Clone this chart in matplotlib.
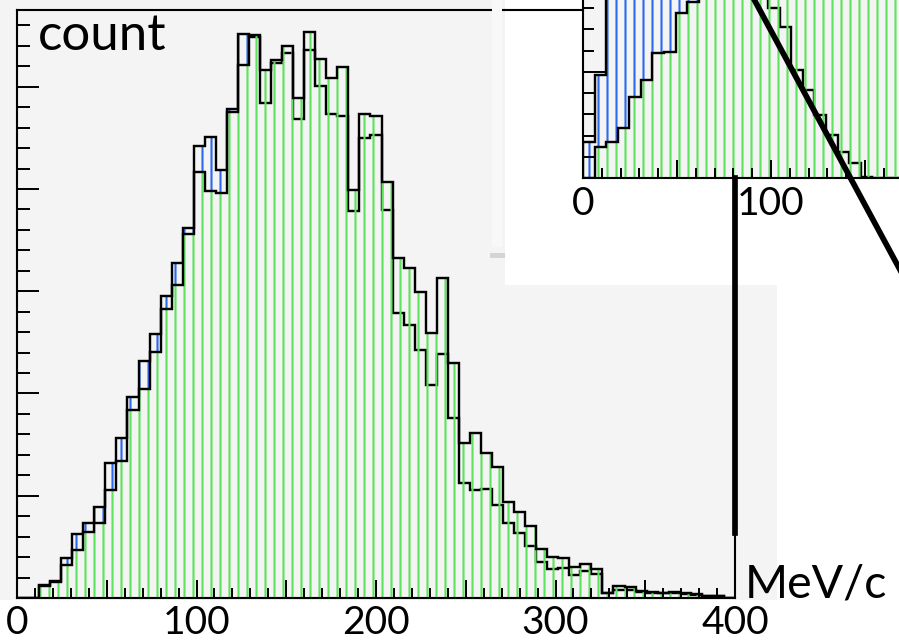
import numpy as np
import matplotlib.pyplot as plt
from matplotlib.patches import Rectangle
from matplotlib.lines import Line2D
from matplotlib.ticker import MultipleLocator, FuncFormatter

W, H, DPI = 899, 641, 108

# momentum spectrum, 65 bins from 0 to 400 MeV/c
edges = np.linspace(0, 400, 66)
blue_counts = [0, 0, 12.7, 16.6, 38.8, 62.3, 73, 88.7, 131.8, 156.8,
               197, 232, 258, 295.5, 327.5, 362.3, 441.6, 450.4, 418.8, 478,
               552, 549, 484, 523, 533, 468.7, 536, 501, 473.5, 471.6,
               378, 450, 453, 379.6, 278.6, 267, 242.7, 208, 239, 175.8,
               112, 105.7, 107, 91, 73.7, 63.3, 50.9, 35.5, 28.1, 29,
               22.5, 26.7, 23, 5, 7.8, 8, 6, 5, 5, 5,
               4, 3, 2, 2, 0]
green_counts = [0, 0, 11.5, 15.5, 32, 47, 64.3, 73, 105.7, 134,
                184, 204, 241, 282.8, 306, 356, 417, 397.6, 396, 474.8,
                521.5, 551, 516.6, 526, 540, 489, 553, 527, 508.5, 519,
                399, 473, 471, 406.4, 332.4, 322.6, 299.7, 259, 313, 229.6,
                152, 161.7, 142, 128.5, 93.6, 84.4, 70.4, 47.6, 40.4, 38.8,
                30.6, 33.3, 28.4, 5.2, 11.7, 10.5, 7.1, 6.2, 5.2, 6,
                5, 4, 2, 2, 0]

# low-momentum view, first 28 bins of the same binning
inset_edges = edges[:29]
inset_blue = [34, 97, 190, 230, 260, 280, 290, 295, 290, 280,
              265, 245, 225, 205, 185, 172, 160, 142, 102, 83,
              59.5, 40.7, 25, 14.6, 1, 0, 0, 0]
inset_green = [0, 29.7, 34.4, 47.5, 76.6, 92.3, 117.4, 119, 155.5, 165.8,
               185, 205, 225, 240, 255, 270, 280, 290, 300, 305,
               310, 312, 310, 305, 300, 295, 290, 285]

main_labels = [0, 100, 200, 300, 400]
inset_labels = [0, 100]

BLUE = '#2b68f0'
GREEN = '#5ce35c'
PAD_GREY = '#f4f4f4'

plt.rcParams['font.family'] = ['Lato', 'DejaVu Sans']
plt.rcParams['hatch.linewidth'] = 1.4


def box(x0, y0, x1, y1):
    # pixel box (origin top-left) -> figure fraction rect
    return [x0 / W, 1 - y1 / H, (x1 - x0) / W, (y1 - y0) / H]


def draw_hist(ax, edges, blue, green):
    blue = np.asarray(blue, float)
    green = np.asarray(green, float)
    # blue hatching only shows where it sticks out above the green one
    ax.stairs(np.maximum(blue, green), edges, baseline=green, fill=True,
              hatch='||', facecolor='none', edgecolor=BLUE, linewidth=0)
    ax.stairs(blue, edges, color='black', linewidth=1.6)
    ax.stairs(green, edges, fill=True, hatch='||', facecolor='none',
              edgecolor=GREEN, linewidth=0)
    ax.stairs(green, edges, color='black', linewidth=1.6)


def style_axes(ax, labels, ylen_minor):
    ax.xaxis.set_major_locator(MultipleLocator(50))
    ax.xaxis.set_minor_locator(MultipleLocator(10))
    ax.xaxis.set_major_formatter(FuncFormatter(
        lambda v, p: f'{v:.0f}' if round(v) in labels else ''))
    ax.yaxis.set_major_locator(MultipleLocator(100))
    ax.yaxis.set_minor_locator(MultipleLocator(20))
    ax.tick_params(which='both', direction='in', width=1.3, colors='black',
                   top=False, right=False, labelleft=False)
    ax.tick_params(axis='x', which='major', length=12, pad=5, labelsize=26)
    ax.tick_params(axis='x', which='minor', length=6.5)
    ax.tick_params(axis='y', which='major', length=14.5)
    ax.tick_params(axis='y', which='minor', length=ylen_minor)
    for sp in ax.spines.values():
        sp.set_linewidth(1.4)
        sp.set_color('black')


fig = plt.figure(figsize=(W / DPI, H / DPI), dpi=DPI)
fig.patch.set_facecolor('white')

# grey canvas behind the main frame
fig.add_artist(Rectangle((0, 1 - 600 / H), 777 / W, 600 / H,
                         transform=fig.transFigure, facecolor=PAD_GREY,
                         edgecolor='none', zorder=-5))

ax = fig.add_axes(box(17, 10, 735, 598))
ax.set_facecolor('none')
draw_hist(ax, edges, blue_counts, green_counts)
ax.set_xlim(0, 400)
ax.set_ylim(0, 575)
style_axes(ax, main_labels, 8.5)

# white panel holding the low-momentum view
fig.add_artist(Rectangle((505 / W, 1 - 285 / H), (W - 505) / W, 285 / H,
                         transform=fig.transFigure, facecolor='white',
                         edgecolor='none', zorder=1))
fig.add_artist(Rectangle((492 / W, 1 - 247 / H), 10 / W, 247 / H,
                         transform=fig.transFigure, facecolor='#f8f8f8',
                         edgecolor='none', zorder=1))
fig.add_artist(Rectangle((490 / W, 1 - 258 / H), 15 / W, 5 / H,
                         transform=fig.transFigure, facecolor='#d4d4d4',
                         edgecolor='none', zorder=1))

axi = fig.add_axes(box(583, 178.3 - 400 * 1.065, 583 + 752, 178.3))
axi.set_zorder(2)
axi.set_facecolor(PAD_GREY)
draw_hist(axi, inset_edges, inset_blue, inset_green)
axi.set_xlim(0, 400)
axi.set_ylim(0, 400)
style_axes(axi, inset_labels, 7.5)

fig.add_artist(Line2D([505 / W, 583 / W], [1 - 10 / H, 1 - 10 / H],
                      transform=fig.transFigure, color='black', lw=1.4,
                      zorder=3))
fig.add_artist(Line2D([735 / W, 735 / W], [1 - 178 / H, 1 - 533 / H],
                      transform=fig.transFigure, color='black', lw=3.8,
                      zorder=4))
fig.add_artist(Line2D([749 / W, 912 / W], [1 + 10 / H, 1 - 292 / H],
                      transform=fig.transFigure, color='black', lw=3.8,
                      zorder=4))

fig.text(38 / W, 1 - 50 / H, 'count', fontsize=34, va='baseline', ha='left',
         zorder=5)
fig.text(745 / W, 1 - 597 / H, 'MeV/c', fontsize=31, va='baseline',
         ha='left', zorder=5)

fig.savefig('out.png', dpi=DPI)
